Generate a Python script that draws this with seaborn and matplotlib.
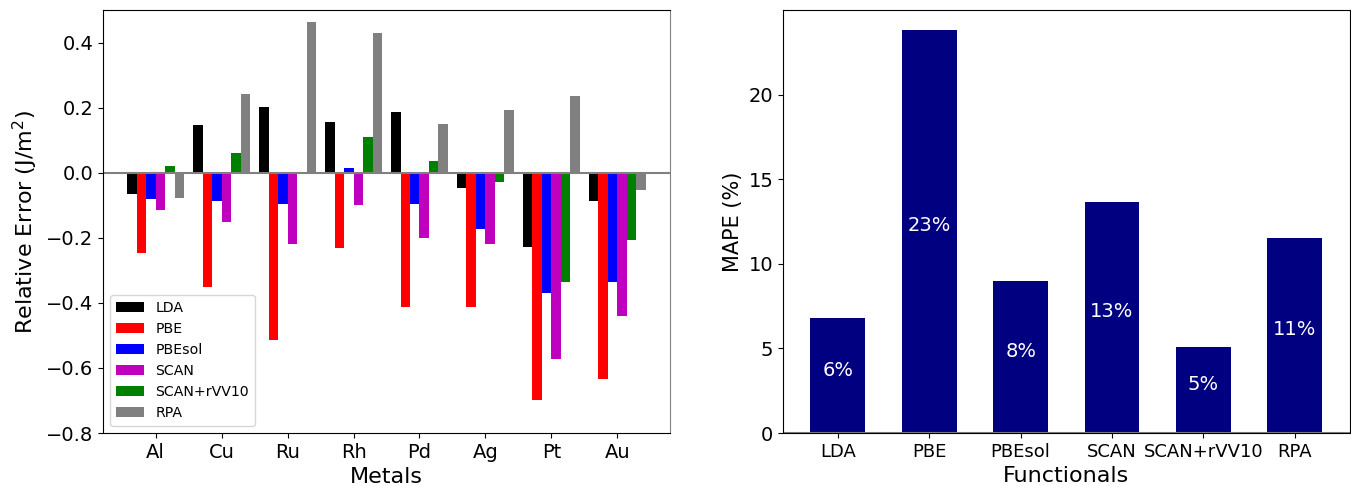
import matplotlib
matplotlib.use("Agg")
import matplotlib.pyplot as plt
import seaborn as sns
import pandas as pd
import numpy as np

# surface energy relative errors per metal and functional
metals = ["Al", "Cu", "Ru", "Rh", "Pd", "Ag", "Pt", "Au"]
functionals = ["LDA", "PBE", "PBEsol", "SCAN", "SCAN+rVV10", "RPA"]

err_lda = [-0.064, 0.148, 0.203, 0.157, 0.188, -0.048, -0.227, -0.088]
err_pbe = [-0.248, -0.351, -0.513, -0.230, -0.414, -0.411, -0.697, -0.633]
err_pbesol = [-0.079, -0.088, -0.097, 0.015, -0.097, -0.174, -0.368, -0.337]
err_scan = [-0.113, -0.150, -0.220, -0.100, -0.199, -0.220, -0.571, -0.439]
err_rvv10 = [0.022, 0.062, 0.002, 0.111, 0.037, -0.027, -0.337, -0.208]
err_rpa = [-0.076, 0.243, 0.465, 0.431, 0.151, 0.194, 0.237, -0.054]

# mean absolute percentage error per functional
mape = [6.80, 23.85, 8.99, 13.67, 5.09, 11.54]
mape_labels = ["6%", "23%", "8%", "13%", "5%", "11%"]

colors = ["black", "red", "blue", "m", "g", "gray"]

rows = []
for f, vals in zip(functionals, [err_lda, err_pbe, err_pbesol, err_scan, err_rvv10, err_rpa]):
    for m, v in zip(metals, vals):
        rows.append({"Metal": m, "Functional": f, "Error": v})
df = pd.DataFrame(rows)

fig = plt.figure(figsize=(13.51, 4.86), dpi=100)
ax1 = fig.add_axes([0.0762, 0.109, 0.4198, 0.870])
ax2 = fig.add_axes([0.5796, 0.109, 0.4194, 0.870])

# left: relative errors
sns.barplot(data=df, x="Metal", y="Error", hue="Functional", hue_order=functionals,
            palette=colors, width=0.864, saturation=1, linewidth=0, ax=ax1)
ax1.axhline(0, color="gray", lw=1.5)
ax1.set_xlim(-0.8, 7.8)
ax1.set_ylim(-0.8, 0.5)
ax1.set_yticks([-0.8, -0.6, -0.4, -0.2, 0.0, 0.2, 0.4])
ax1.set_xlabel("Metals", fontsize=16)
ax1.set_ylabel("Relative Error (J/m$^2$)", fontsize=16)
ax1.tick_params(labelsize=14)
ax1.spines["right"].set_color("gray")
ax1.legend(loc="lower left", fontsize=10.2)

# right: MAPE
sns.barplot(x=functionals, y=mape, color="navy", width=0.6, saturation=1,
            linewidth=0, ax=ax2)
ax2.axhline(0, color="gray", lw=1.5)
ax2.set_xlim(-0.6, 5.6)
ax2.set_ylim(0, 25)
ax2.set_yticks([0, 5, 10, 15, 20])
for i, (v, lab) in enumerate(zip(mape, mape_labels)):
    ax2.text(i, v / 2, lab, ha="center", color="white", fontsize=14)
ax2.set_xlabel("Functionals", fontsize=16)
ax2.set_ylabel("MAPE (%)", fontsize=15)
ax2.tick_params(axis="y", labelsize=14)
ax2.tick_params(axis="x", labelsize=13)

fig.savefig("out.png", dpi=100)
